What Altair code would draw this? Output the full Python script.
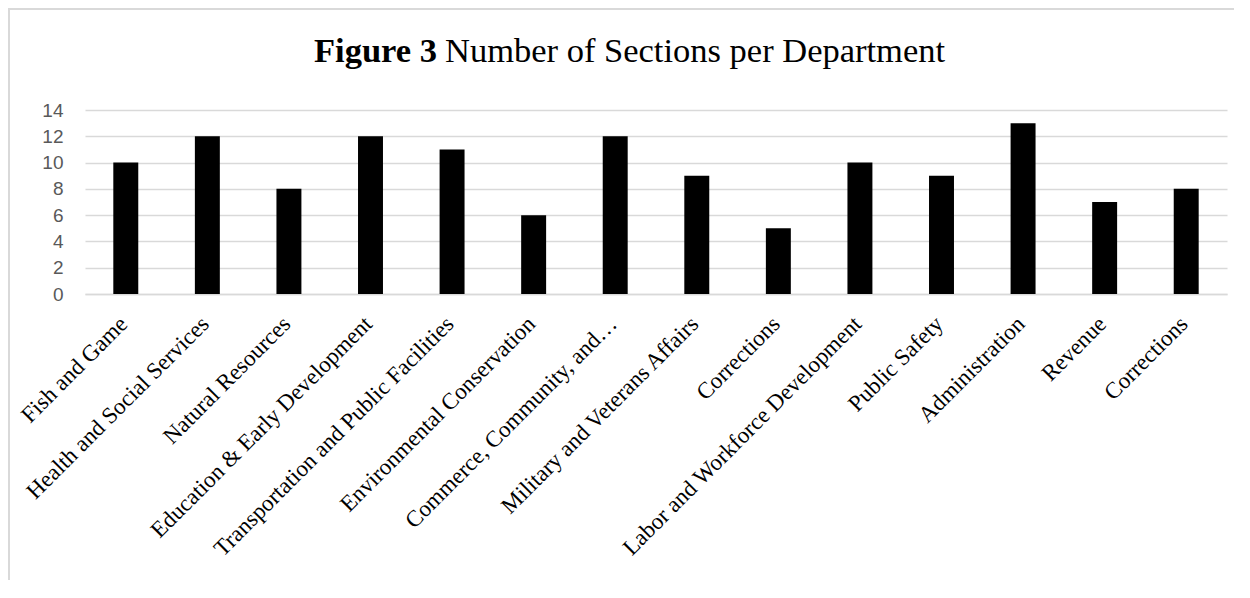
import json
import altair as alt
import pandas as pd

departments = [
    "Fish and Game",
    "Health and Social Services",
    "Natural Resources",
    "Education & Early Development",
    "Transportation and Public Facilities",
    "Environmental Conservation",
    "Commerce, Community, and…",
    "Military and Veterans Affairs",
    "Corrections",
    "Labor and Workforce Development",
    "Public Safety",
    "Administration",
    "Revenue",
    "Corrections",
]
sections = [10, 12, 8, 12, 11, 6, 12, 9, 5, 10, 9, 13, 7, 8]
y_ticks = [0, 2, 4, 6, 8, 10, 12, 14]
title_bold = "Figure 3"
title_rest = "Number of Sections per Department"

df = pd.DataFrame({"idx": list(range(len(departments))), "dept": departments, "n": sections})
label_expr = json.dumps(departments, ensure_ascii=False) + "[datum.value]"

GRID = "#d9d9d9"

bars = alt.Chart(df).mark_bar(color="black").encode(
    x=alt.X(
        "idx:O",
        sort=None,
        scale=alt.Scale(paddingInner=0.694, paddingOuter=0.347),
        axis=alt.Axis(
            title=None,
            labelExpr=label_expr,
            labelAngle=-45,
            labelAlign="right",
            labelBaseline="middle",
            labelFont="Liberation Serif",
            labelFontSize=23,
            labelColor="black",
            labelPadding=26,
            labelOffset=-2,
            labelOverlap=False,
            labelLimit=0,
            ticks=False,
            domainColor=GRID,
            domainWidth=1.5,
            grid=False,
        ),
    ),
    y=alt.Y(
        "n:Q",
        scale=alt.Scale(domain=[0, 14], nice=False),
        axis=alt.Axis(
            title=None,
            values=y_ticks,
            domain=False,
            ticks=False,
            labelFont="Liberation Sans",
            labelFontSize=19,
            labelColor="#595959",
            labelPadding=22,
            gridColor=GRID,
            gridWidth=1.5,
        ),
    ),
)

t1 = alt.Chart(pd.DataFrame({"t": [title_bold]})).mark_text(
    font="Liberation Serif", fontSize=34.5, fontWeight="bold", align="right",
    baseline="alphabetic", color="black"
).encode(text="t:N", x=alt.value(352), y=alt.value(-48))

t2 = alt.Chart(pd.DataFrame({"t": [title_rest]})).mark_text(
    font="Liberation Serif", fontSize=34.5, align="left",
    baseline="alphabetic", color="black"
).encode(text="t:N", x=alt.value(360), y=alt.value(-48))

border_df = pd.DataFrame({"b": [1]})
left_border = alt.Chart(border_df).mark_rule(color=GRID, strokeWidth=2).encode(
    x=alt.value(-76), y=alt.value(-102), y2=alt.value(480)
)
top_border = alt.Chart(border_df).mark_rule(color=GRID, strokeWidth=2).encode(
    x=alt.value(-77), x2=alt.value(1149), y=alt.value(-101)
)

chart = alt.layer(bars, t1, t2, left_border, top_border).properties(
    width=1142,
    height=184,
    padding={"left": 77, "top": 102, "right": 10, "bottom": 286},
    autosize="none",
).configure_view(stroke=None)

chart.save("out.html", embed_options={"renderer": "svg", "actions": False})
